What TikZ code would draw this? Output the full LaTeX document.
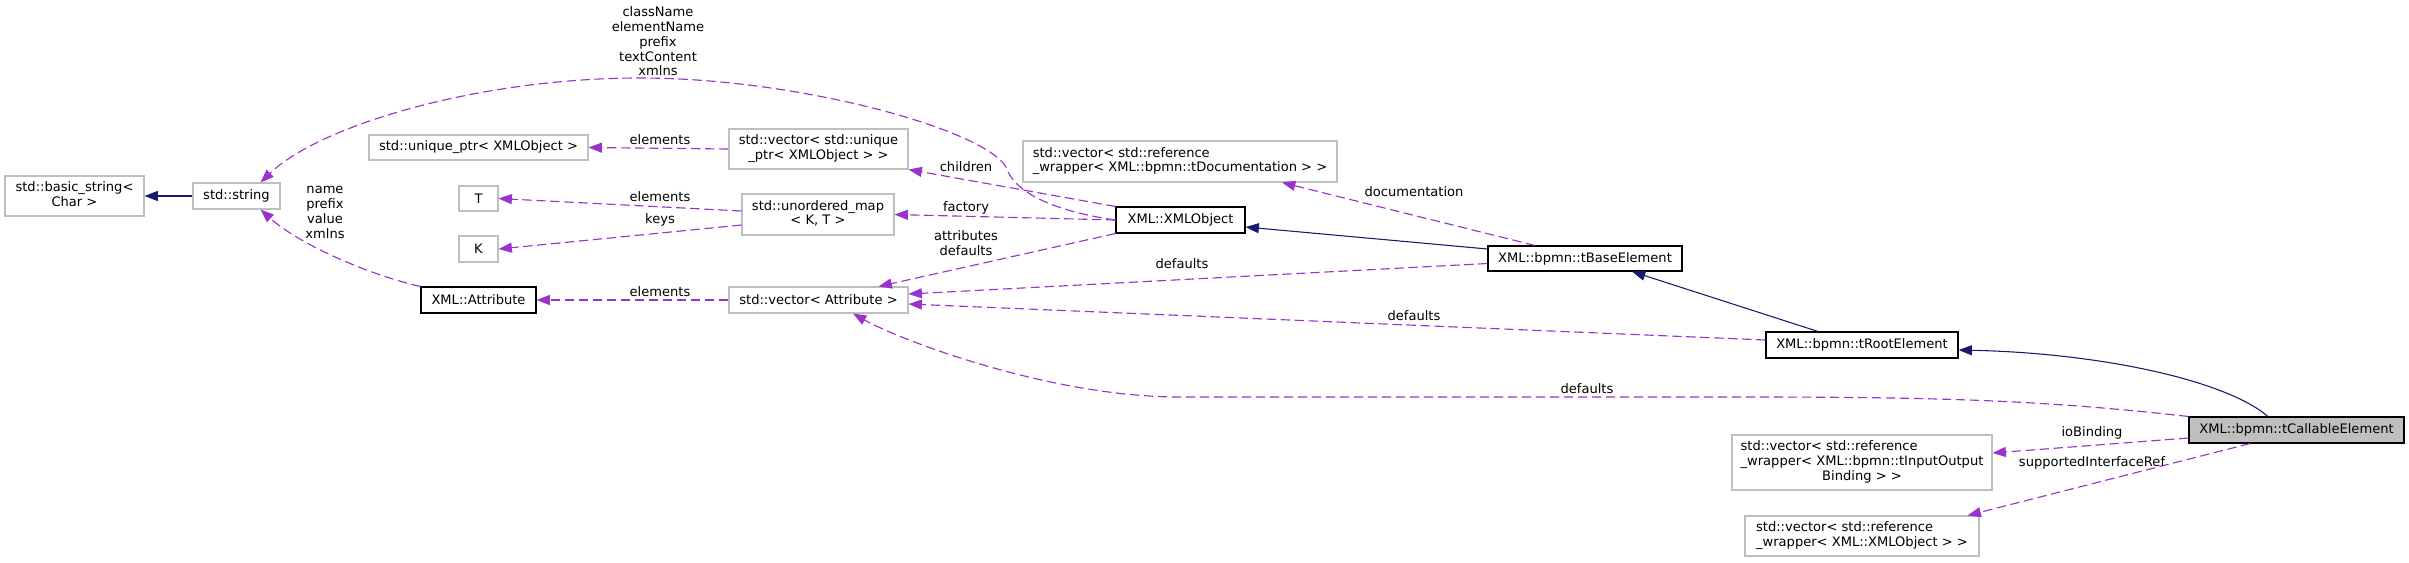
\documentclass[tikz,border=0pt]{standalone}
\usepackage{fontspec}
\setmainfont{DejaVu Sans}
\usetikzlibrary{arrows.meta,calc}
\definecolor{purp}{HTML}{9A32CD}
\definecolor{navyc}{HTML}{191970}
\definecolor{boxgray}{HTML}{BFBFBF}
\begin{document}
\begin{tikzpicture}[x=0.75pt,y=-0.75pt,
  every node/.style={font=\fontsize{9.8}{11.1}\selectfont, text=black},
  box/.style={draw=boxgray, line width=0.8pt, inner sep=0pt, fill=white},
  docbox/.style={box, draw=black},
  lbl/.style={align=center, inner sep=0pt},
  dep/.style={draw=purp, line width=0.85pt, dash pattern=on 7pt off 3.5pt, -{Triangle[length=10pt,width=7.5pt]}},
  inh/.style={draw=navyc, line width=0.8pt, -{Triangle[length=10pt,width=7.5pt]}}]
\fill[white] (0,0) rectangle (2409,562);
\useasboundingbox (0,0) rectangle (2409,562);
% nodes
\node[box, minimum width=104.25pt, minimum height=30pt] (bstr) at (74.5,196) {\begin{tabular}{@{}l@{}}std::basic\_string<\\\multicolumn{1}{@{}c@{}}{Char >}\end{tabular}};
\node[box, minimum width=65.25pt, minimum height=19.5pt] (str) at (236.5,196) {std::string};
\node[box, minimum width=164.25pt, minimum height=18.75pt] (uptr) at (478.5,147.5) {std::unique\_ptr< XMLObject >};
\node[box, minimum width=29.25pt, minimum height=18.75pt] (T) at (478.5,198.5) {T};
\node[box, minimum width=29.25pt, minimum height=19.5pt] (K) at (478.5,249) {K};
\node[docbox, minimum width=86.25pt, minimum height=19.5pt] (attr) at (478.5,300) {XML::Attribute};
\node[box, minimum width=134.25pt, minimum height=30pt] (vuptr) at (818.5,149) {\begin{tabular}{@{}l@{}}std::vector< std::unique\\\multicolumn{1}{@{}c@{}}{\_ptr< XMLObject > >}\end{tabular}};
\node[box, minimum width=114pt, minimum height=30.75pt] (umap) at (818,214.5) {\begin{tabular}{@{}l@{}}std::unordered\_map\\\multicolumn{1}{@{}c@{}}{< K, T >}\end{tabular}};
\node[box, minimum width=134.25pt, minimum height=19.5pt] (vattr) at (818.5,300) {std::vector< Attribute >};
\node[box, minimum width=235.5pt, minimum height=30.75pt] (vdoc) at (1180,161.5) {\begin{tabular}{@{}l@{}}std::vector< std::reference\\\multicolumn{1}{@{}c@{}}{\_wrapper< XML::bpmn::tDocumentation > >}\end{tabular}};
\node[docbox, minimum width=96.75pt, minimum height=19.5pt] (xmlobj) at (1180.5,220) {XML::XMLObject};
\node[docbox, minimum width=145.5pt, minimum height=18.75pt] (tbase) at (1585,258.5) {XML::bpmn::tBaseElement};
\node[docbox, minimum width=144pt, minimum height=19.5pt] (troot) at (1862,345) {XML::bpmn::tRootElement};
\node[docbox, fill=boxgray, minimum width=161.25pt, minimum height=19.5pt] (tcall) at (2296.5,430) {XML::bpmn::tCallableElement};
\node[box, minimum width=195pt, minimum height=41.25pt] (vio) at (1862,462.5) {\begin{tabular}{@{}l@{}}std::vector< std::reference\\\_wrapper< XML::bpmn::tInputOutput\\\multicolumn{1}{@{}c@{}}{Binding > >}\end{tabular}};
\node[box, minimum width=175.5pt, minimum height=30pt] (vsir) at (1862,536) {\begin{tabular}{@{}l@{}}std::vector< std::reference\\\multicolumn{1}{@{}c@{}}{\_wrapper< XML::XMLObject > >}\end{tabular}};
% edges
\draw[inh] (str.west) -- (bstr.east);
\draw[dep] (xmlobj.west) .. controls (1060,212) and (1015,195) .. (1006,167) .. controls (985,130) and (800,78) .. (640,78) .. controls (480,78) and (320,125) .. ($(str.north east)+(-20,0)$);
\node[lbl] (lclass) at (658,41.5) {className\\elementName\\prefix\\textContent\\xmlns};
\draw[dep] (xmlobj.north west) -- (vuptr.south east);
\node[lbl] (lchildren) at (966,167) {children};
\draw[dep] (vuptr.west) -- (uptr.east);
\node[lbl] (lel1) at (660,140) {elements};
\draw[dep] (xmlobj.west) -- (umap.east);
\node[lbl] (lfactory) at (966,208) {factory};
\draw[dep] ($(umap.west)+(0,-3.5)$) -- (T.east);
\node[lbl] (lel2) at (660,197) {elements};
\draw[dep] ($(umap.west)+(0,10.5)$) -- (K.east);
\node[lbl] (lkeys) at (660,220) {keys};
\draw[dep] (xmlobj.south west) -- ($(vattr.north)+(60,0)$);
\node[lbl] (lattr) at (966,243.5) {attributes\\defaults};
\draw[dep] (vattr.west) -- (attr.east);
\node[lbl] (lel3) at (660,292) {elements};
\draw[dep] (attr.north west) .. controls (370,275) and (300,245) .. ($(str.south east)+(-20,0)$);
\node[lbl] (lname) at (325,212.5) {name\\prefix\\value\\xmlns};
\draw[inh] ($(tbase.west)+(0,-9.5)$) -- ($(xmlobj.east)+(0,7)$);
\draw[dep] ($(tbase.north)+(-50,0)$) -- ($(vdoc.south)+(102,0)$);
\node[lbl] (ldoc) at (1414,192) {documentation};
\draw[dep] ($(tbase.west)+(0,5)$) -- ($(vattr.east)+(0,-6)$);
\node[lbl] (ldef1) at (1182,264) {defaults};
\draw[inh] ($(troot.north)+(-44,0)$) -- ($(tbase.south)+(47,0)$);
\draw[dep] ($(troot.west)+(0,-5)$) -- ($(vattr.east)+(0,4)$);
\node[lbl] (ldef2) at (1414,316) {defaults};
\draw[inh] ($(tcall.north)+(-28.5,0)$) .. controls (2225,380) and (2100,353) .. ($(troot.east)+(0,5)$);
\draw[dep] (tcall.north west) .. controls (2050,401) and (1950,397) .. (1750,397) -- (1180,397) .. controls (1050,397) and (900,340) .. ($(vattr.south)+(34.5,0)$);
\node[lbl] (ldef3) at (1587,389) {defaults};
\draw[dep] ($(tcall.west)+(0,8)$) -- ($(vio.east)+(0,-9.5)$);
\node[lbl] (lio) at (2092,433) {ioBinding};
\draw[dep] ($(tcall.south)+(-46.5,0)$) -- ($(vsir.north east)+(-12,0)$);
\node[lbl] (lsir) at (2092,463) {supportedInterfaceRef};
\end{tikzpicture}
\end{document}
